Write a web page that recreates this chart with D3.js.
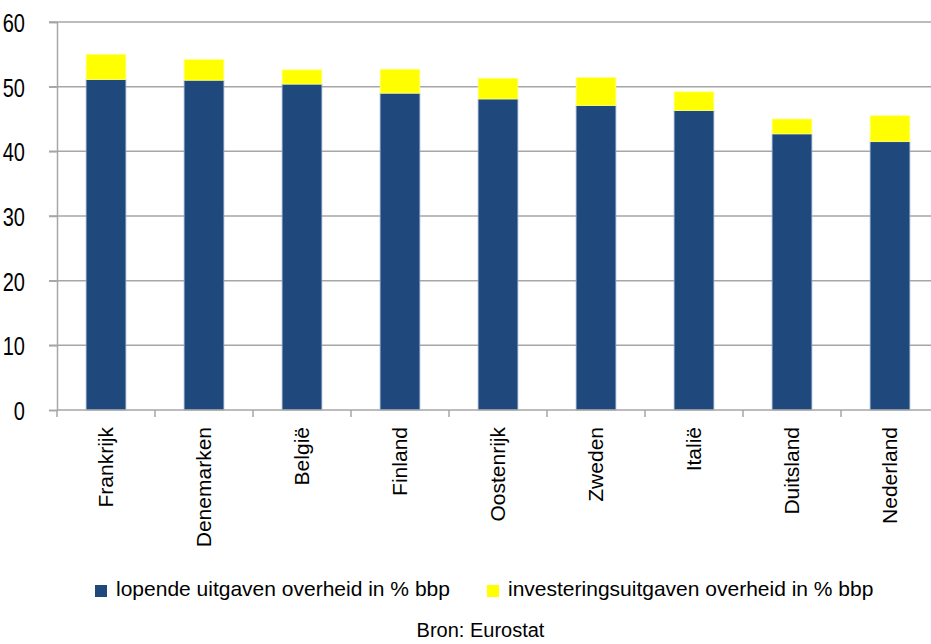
<!DOCTYPE html>
<html>
<head>
<meta charset="utf-8">
<script src="https://cdn.jsdelivr.net/npm/d3@7"></script>
<style>
  html, body { margin: 0; padding: 0; background: #fff; }
  svg { display: block; font-family: "Liberation Sans", Arial, sans-serif; }
</style>
</head>
<body>
<svg id="chart" width="931" height="644"></svg>
<script>
// Overheidsuitgaven per land, in % van het bbp
const landen = ["Frankrijk", "Denemarken", "België", "Finland", "Oostenrijk", "Zweden", "Italië", "Duitsland", "Nederland"];
const lopendeUitgaven = [51.1, 51.0, 50.4, 49.0, 48.1, 47.1, 46.3, 42.7, 41.5];
const investeringsUitgaven = [3.9, 3.2, 2.2, 3.7, 3.2, 4.3, 2.9, 2.3, 4.0];
const yTicks = [0, 10, 20, 30, 40, 50, 60];
const reeksNamen = ["lopende uitgaven overheid in % bbp", "investeringsuitgaven overheid in % bbp"];
const bronTekst = "Bron: Eurostat";

const kleuren = ["#1f497d", "#ffff00"];
const svg = d3.select("#chart");

const plot = { left: 57, right: 939, top: 22, bottom: 410 };

const x = d3.scaleBand().domain(landen).range([plot.left, plot.right]).padding(0);
const y = d3.scaleLinear().domain([0, 60]).range([plot.bottom, plot.top]);
const barW = x.bandwidth() * 0.405;

// Horizontal gridlines (extend left as tick marks)
svg.append("g")
  .selectAll("line")
  .data(yTicks.filter(t => t > 0))
  .join("line")
  .attr("x1", plot.left - 8)
  .attr("x2", plot.right)
  .attr("y1", d => y(d))
  .attr("y2", d => y(d))
  .attr("stroke", "#a6a6a6")
  .attr("stroke-width", 1.5);

// Stacked data
const stacked = landen.map((l, i) => ({
  land: l,
  parts: [
    { y0: 0, y1: lopendeUitgaven[i], k: 0 },
    { y0: lopendeUitgaven[i], y1: lopendeUitgaven[i] + investeringsUitgaven[i], k: 1 }
  ]
}));

const bars = svg.append("g");
stacked.forEach(d => {
  bars.selectAll(null)
    .data(d.parts)
    .join("rect")
    .attr("x", x(d.land) + (x.bandwidth() - barW) / 2)
    .attr("width", barW)
    .attr("y", p => y(p.y1))
    .attr("height", p => y(p.y0) - y(p.y1))
    .attr("fill", p => kleuren[p.k])
    .attr("stroke", p => p.k === 0 ? "#8fa6c6" : "#ffff80")
    .attr("stroke-width", 0.8);
});

// Y axis
const yAxis = svg.append("g")
  .attr("transform", `translate(${plot.left},0)`)
  .call(d3.axisLeft(y).tickValues(yTicks).tickSize(8).tickPadding(24).tickFormat(d3.format("d")));
yAxis.select(".domain").attr("stroke", "#a6a6a6").attr("stroke-width", 1.5);
yAxis.selectAll(".tick line").attr("stroke", "#a6a6a6").attr("stroke-width", 1.5);
// Tall, narrow numerals for the value axis
yAxis.selectAll(".tick text")
  .attr("fill", "#000")
  .attr("dy", "0.36em")
  .style("font-size", "26px")
  .style("font-family", "'Liberation Sans', Arial, sans-serif")
  .each(function () {
    const len = this.getComputedTextLength();
    d3.select(this).attr("textLength", len * 0.77).attr("lengthAdjust", "spacingAndGlyphs");
  });

// X axis with tick marks on category boundaries
const xAxisG = svg.append("g");
xAxisG.append("line")
  .attr("x1", plot.left).attr("x2", plot.right)
  .attr("y1", plot.bottom).attr("y2", plot.bottom)
  .attr("stroke", "#a6a6a6").attr("stroke-width", 1.5);
xAxisG.selectAll("line.tk")
  .data(landen)
  .join("line")
  .attr("class", "tk")
  .attr("x1", d => x(d)).attr("x2", d => x(d))
  .attr("y1", plot.bottom).attr("y2", plot.bottom + 7)
  .attr("stroke", "#a6a6a6").attr("stroke-width", 1.5);

xAxisG.selectAll("text")
  .data(landen)
  .join("text")
  .attr("transform", d => `translate(${x(d) + x.bandwidth() / 2 + 7},${plot.bottom + 17}) rotate(-90)`)
  .attr("text-anchor", "end")
  .style("font-size", "21px")
  .attr("fill", "#000")
  .text(d => d);

// Legend
const legend = svg.append("g");
const legendItems = [
  { naam: reeksNamen[0], kleur: kleuren[0], x: 95 },
  { naam: reeksNamen[1], kleur: kleuren[1], x: 487 }
];
legendItems.forEach(it => {
  legend.append("rect")
    .attr("x", it.x).attr("y", 585)
    .attr("width", 12).attr("height", 12)
    .attr("fill", it.kleur);
  legend.append("text")
    .attr("x", it.x + 21).attr("y", 596)
    .style("font-size", "21px")
    .attr("fill", "#000")
    .text(it.naam);
});

// Source note
svg.append("text")
  .attr("x", 480.5).attr("y", 637)
  .attr("text-anchor", "middle")
  .style("font-size", "20px")
  .attr("fill", "#000")
  .text(bronTekst);
</script>
</body>
</html>
